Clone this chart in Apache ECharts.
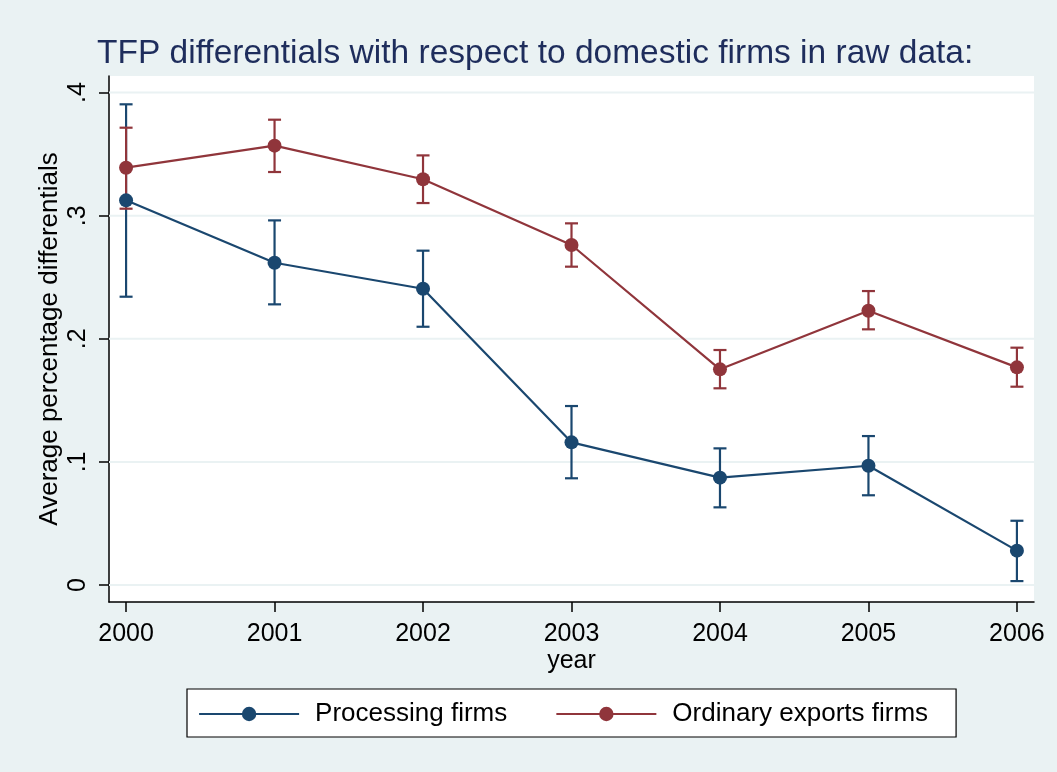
<!DOCTYPE html>
<html>
<head>
<meta charset="utf-8">
<script src="https://cdn.jsdelivr.net/npm/echarts@6/dist/echarts.min.js"></script>
<style>
html,body{margin:0;padding:0;background:#EAF2F3;}
#chart{width:1057px;height:772px;}
</style>
</head>
<body>
<div id="chart"></div>
<script>
var years = [2000, 2001, 2002, 2003, 2004, 2005, 2006];
var processing = [0.3125, 0.2618, 0.2407, 0.1159, 0.0872, 0.0969, 0.0279];
var processingLow = [0.2342, 0.2280, 0.2098, 0.0867, 0.0631, 0.0729, 0.0032];
var processingHigh = [0.3905, 0.2962, 0.2716, 0.1454, 0.1110, 0.1210, 0.0522];
var ordinary = [0.3390, 0.3569, 0.3296, 0.2762, 0.1752, 0.2228, 0.1768];
var ordinaryLow = [0.3057, 0.3355, 0.3103, 0.2586, 0.1598, 0.2077, 0.1611];
var ordinaryHigh = [0.3715, 0.3780, 0.3490, 0.2938, 0.1909, 0.2388, 0.1928];
var yTicks = [0, 0.1, 0.2, 0.3, 0.4];
var seriesNames = ['Processing firms', 'Ordinary exports firms'];
var titleText = 'TFP differentials with respect to domestic firms in raw data:';

var BLUE = '#1a476f', RED = '#90353b';
var FONT = '"Liberation Sans", Arial, Helvetica, sans-serif';

function pairs(xs, ys) { return xs.map(function (x, i) { return [x, ys[i]]; }); }
function triples(xs, lo, hi) { return xs.map(function (x, i) { return [x, lo[i], hi[i]]; }); }

function errRender(color) {
  return function (params, api) {
    var x = api.value(0);
    var p1 = api.coord([x, api.value(1)]);
    var p2 = api.coord([x, api.value(2)]);
    var hw = 6.5;
    var st = { stroke: color, lineWidth: 2.2 };
    return {
      type: 'group',
      children: [
        { type: 'line', shape: { x1: p1[0], y1: p1[1], x2: p2[0], y2: p2[1] }, style: st },
        { type: 'line', shape: { x1: p1[0] - hw, y1: p1[1], x2: p1[0] + hw, y2: p1[1] }, style: st },
        { type: 'line', shape: { x1: p2[0] - hw, y1: p2[1], x2: p2[0] + hw, y2: p2[1] }, style: st }
      ]
    };
  };
}

function gridRender(params, api) {
  var cs = params.coordSys;
  var p = api.coord([years[0], api.value(0)]);
  return {
    type: 'line',
    shape: { x1: cs.x, y1: p[1], x2: cs.x + cs.width, y2: p[1] },
    style: { stroke: '#EAF2F3', lineWidth: 2 }
  };
}

var chart = echarts.init(document.getElementById('chart'), null, { renderer: 'canvas' });
chart.setOption({
  animation: false,
  backgroundColor: '#EAF2F3',
  textStyle: { fontFamily: FONT },
  title: {
    text: titleText,
    left: 92, top: 32,
    textStyle: { fontFamily: FONT, fontSize: 33.5, fontWeight: 'normal', color: '#1e2d5c' }
  },
  grid: { left: 109, right: 23, top: 76, bottom: 170, show: true, backgroundColor: '#ffffff', borderWidth: 0 },
  legend: {
    data: seriesNames,
    left: 187, top: 689,
    padding: [12, 28, 10, 11],
    itemGap: 48,
    itemWidth: 100, itemHeight: 18,
    lineStyle: { width: 2.2 },
    backgroundColor: '#ffffff',
    borderColor: '#000000', borderWidth: 1.2,
    textStyle: { fontFamily: FONT, fontSize: 26, color: '#000', padding: [0, 0, 0, 11] }
  },
  xAxis: {
    type: 'value',
    min: 1999.885, max: 2006.115,
    name: 'year', nameLocation: 'middle', nameGap: 47, nameMoveOverlap: false,
    nameTextStyle: { fontFamily: FONT, fontSize: 25, color: '#000' },
    axisLine: { show: true, onZero: false, lineStyle: { color: '#000', width: 1.5 } },
    axisTick: { show: true, length: 10, customValues: years, lineStyle: { color: '#000', width: 1.5 } },
    axisLabel: { customValues: years, margin: 20, fontSize: 25, color: '#000', fontFamily: FONT,
      formatter: function (v) { return String(Math.round(v)); } },
    splitLine: { show: false }
  },
  yAxis: {
    type: 'value',
    min: -0.0138, max: 0.4135,
    name: 'Average percentage differentials', nameLocation: 'middle', nameGap: 46, nameMoveOverlap: false,
    nameTextStyle: { fontFamily: FONT, fontSize: 26, color: '#000' },
    axisLine: { show: true, onZero: false, lineStyle: { color: '#000', width: 1.5 } },
    axisTick: { show: true, length: 10, customValues: yTicks, lineStyle: { color: '#000', width: 1.5 } },
    axisLabel: { customValues: yTicks, rotate: 90, margin: 18, fontSize: 25, color: '#000', fontFamily: FONT,
      formatter: function (v) { return v === 0 ? '0' : String(Math.round(v * 10) / 10).replace(/^0/, ''); } },
    splitLine: { show: false }
  },
  series: [
    {
      type: 'custom', name: 'gridlines', z: 1, silent: true,
      renderItem: gridRender,
      data: yTicks.map(function (t) { return [t]; }),
      encode: { y: 0 }
    },
    {
      type: 'custom', name: 'procCI', z: 2, silent: true,
      renderItem: errRender(BLUE),
      data: triples(years, processingLow, processingHigh),
      encode: { x: 0, y: [1, 2] }
    },
    {
      type: 'custom', name: 'ordCI', z: 2, silent: true,
      renderItem: errRender(RED),
      data: triples(years, ordinaryLow, ordinaryHigh),
      encode: { x: 0, y: [1, 2] }
    },
    {
      type: 'line', name: seriesNames[0], z: 3,
      data: pairs(years, processing),
      symbol: 'circle', symbolSize: 14, showAllSymbol: true,
      lineStyle: { color: BLUE, width: 2.2 },
      itemStyle: { color: BLUE }
    },
    {
      type: 'line', name: seriesNames[1], z: 3,
      data: pairs(years, ordinary),
      symbol: 'circle', symbolSize: 14, showAllSymbol: true,
      lineStyle: { color: RED, width: 2.2 },
      itemStyle: { color: RED }
    }
  ]
});
</script>
</body>
</html>
